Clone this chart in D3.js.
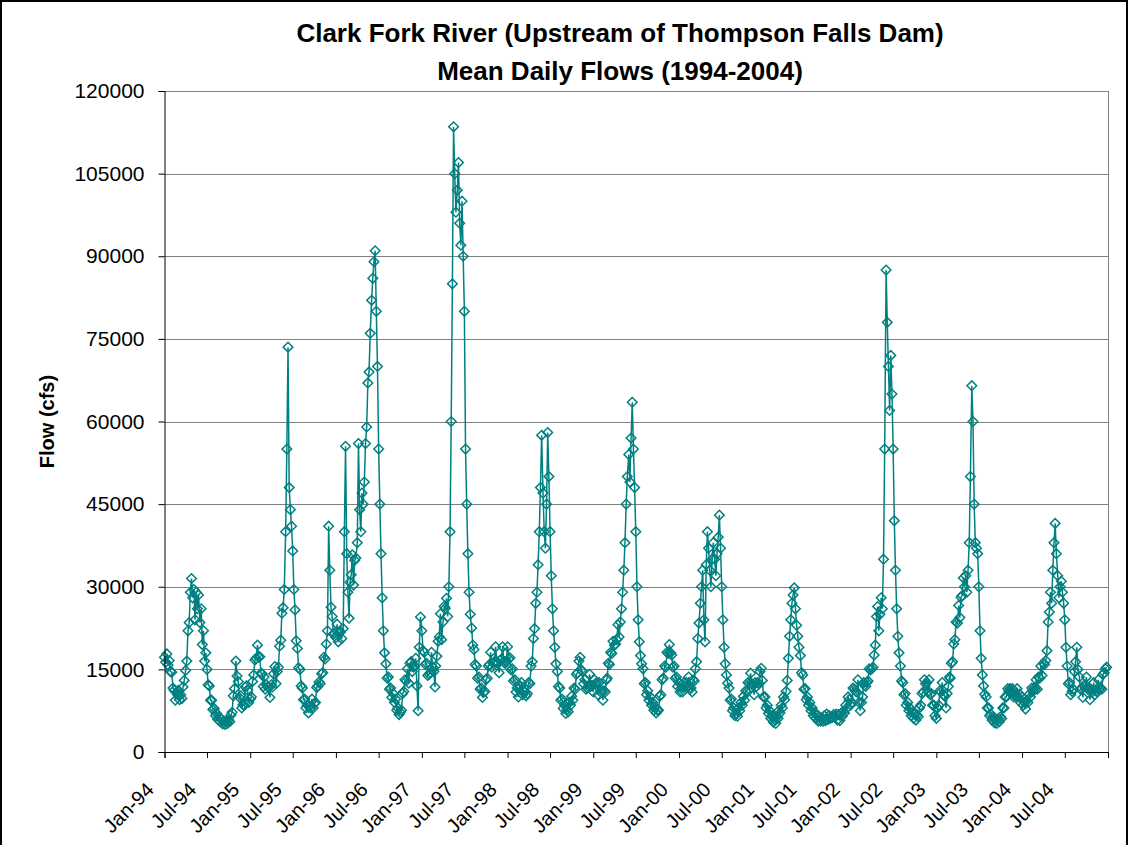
<!DOCTYPE html>
<html><head><meta charset="utf-8">
<script src="https://cdn.jsdelivr.net/npm/d3@7"></script>
<style>
body{margin:0;background:#fff;}
svg{display:block;font-family:"Liberation Sans",Arial,Helvetica,sans-serif;}
</style>
</head><body>
<svg id="chart" width="1130" height="845"></svg>
<script>
// ---- DATA (mean daily flow, cfs, sampled on days 1,6,11,16,21,26 of each month) ----
const years = [1994,1995,1996,1997,1998,1999,2000,2001,2002,2003,2004];
const sampleDays = [1,6,11,16,21,26];

const flows1994 = [
 17200,16300,17800,15800,16600,14600,
 14500,11600,11200, 9400,10800,10400,
 11200, 9500,10400, 9700,11800,13000,
 14800,16500,22000,23500,29000,31500,
 28000,29500,24000,29000,26000,28500,
 23500,26000,19500,22000,16500,18000,
 15000,12200,12000, 9400, 9400, 7700,
  7900, 6600, 7000, 5900, 6400, 5500,
  5900, 5100, 5600, 5000, 5600, 5200,
  5800, 5500, 6700, 7200,10200,11500,
 16500,13800,12800, 9900,10200, 8000,
  8600, 8500,11800,12000,11200, 9000];
const flows1995 = [
  9600,10000,12800,14000,16700,17000,
 19400,17200,17300,14300,14200,11900,
 13600,11400,12200,11800,11700, 9900,
 12200,11800,14200,15500,12400,14600,
 15400,19200,20300,25200,26200,29500,
 40000,55000,73500,48000,44000,41000,
 36500,29500,25800,20200,18800,15300,
 15000,12000,11600, 9500, 9600, 8000,
  8500, 7100, 8300, 8000, 9600, 8000,
  8800, 9000,11700,12000,12700,12400,
 14200,14400,17200,16900,19600,22000,
 41000,33000,26300,24600,21400,21600];
const flows1996 = [
 20800,23200,20000,21700,21800,20600,
 22400,40000,55500,36000,29000,24300,
 30800,32200,35800,30300,34800,35200,
 38000,56000,44000,40000,47000,45000,
 49000,56000,59000,67000,69000,76000,
 82000,86000,89000,91000,80000,70000,
 55000,45000,36000,28000,22000,18000,
 16000,13400,13600,11400,11600, 9900,
 10600, 9000, 9600, 7600, 8000, 6800,
  7200, 7600,10600,11000,13100,12900,
 15100,12500,16100,16400,14600,15400,
 15600,17000,12000, 7500,19000,24500];
const flows1997 = [
 22000,18400,18100,15900,16100,13900,
 14100,14400,18100,15400,14600,11800,
 15600,17400,20100,20900,25100,20400,
 23600,26400,26100,27900,24600,30000,
 40000,60000,85000,113500,105000,98000,
 102000,107000,96000,92000,100000,90000,
 80000,55000,45000,36000,29000,25000,
 22500,19400,18600,15900,15600,13400,
 13600,11400,11600, 9900,10800,11000,
 13100,13400,15600,15900,18100,15400,
 16100,16400,19100,16400,16100,14400,
 16600,16900,19100,16400,16100,16400];
const flows1998 = [
 19100,16900,17100,14900,15100,12900,
 13100,10900,11600,10000,12100,11900,
 12600,10400,11100,10900,10200,10600,
 12600,12400,15600,16400,20600,22400,
 27000,29000,34000,40000,48000,57500,
 47000,40000,37000,45000,58000,50000,
 40000,32000,26000,22000,19000,16000,
 14600,11900,11600, 9400, 9600, 7900,
  8500, 7000, 7700, 7300, 9000, 8500,
 10100, 9400,11600,11400,14100,14400,
 16500,17200,14900,14600,12400,13100,
 11400,11600,11900,14100,11900,12100];
const flows1999 = [
 10900,13100,12400,12600,10400,12600,
 10900,11100, 9400,11100,10900,13100,
 13400,16100,15900,18100,17900,20100,
 19400,19600,20400,23100,20900,23600,
 26000,29000,33000,38000,45000,50000,
 54000,49000,57000,63500,55000,48000,
 40000,30000,24000,20000,17500,16000,
 15100,12400,12600,10400,11100, 9400,
 10000, 8500, 9000, 7600, 8200, 7100,
  7600, 7600,10100,10400,13100,13400,
 15600,15400,18100,17900,19500,18000,
 17600,15400,15600,13400,13600,11900];
const flows2000 = [
 12600,10900,11600,10900,12600,11900,
 12600,11900,13600,11400,11600,10900,
 13100,12900,15100,16400,20600,23400,
 27000,30000,33000,24000,20000,34000,
 40000,37000,33000,30000,35000,38000,
 35000,32000,36000,39000,43000,37000,
 30000,24000,19000,16000,14000,12500,
 11600, 9400, 9600, 7500, 8000, 6600,
  7000, 6500, 8000, 7500, 9000, 8500,
 10100, 9400,11100,10900,12600,12400,
 14300,12400,12100,10400,12600,11900,
 12600,12400,14600,15200,13000,10000];
const flows2001 = [
 10000, 8000, 8500, 7000, 7500, 6100,
  6600, 5400, 5900, 5200, 6400, 6100,
  7500, 7100, 8500, 8000,10000, 9500,
 11000,13000,17000,21000,24000,27000,
 28500,29800,26000,23000,21000,19000,
 17500,14400,14000,11400,11500, 9500,
 10000, 8500, 9000, 7500, 8000, 6600,
  7200, 6100, 6600, 5600, 6400, 5600,
  6200, 5600, 6600, 5700, 6900, 5900,
  6600, 6100, 6400, 6300, 6800, 6400,
  6900, 5800, 6800, 5700, 7000, 6500,
  7400, 7100, 8500, 8000,10000, 9500];
const flows2002 = [
  8500, 9000,11600,11400,11100,10900,
 13100, 9000, 7500, 9000,10000,12600,
 12100,11900,12600,12900,15100,14900,
 15100,15400,17600,19400,24600,26400,
 22000,25000,28000,26000,35000,55000,
 87500,78000,70000,62000,72000,65000,
 55000,42000,33000,26000,21000,18000,
 15600,12900,12600,10400,10600, 8500,
  9000, 7500, 8000, 6600, 7200, 6100,
  6800, 5800, 6700, 6400, 8000, 8500,
 10600,10900,13100,12400,12600,10900,
 13100,10400,10600, 8500, 8500, 6600];
const flows2003 = [
  6100, 8000, 8500,11100,10900,12600,
 10400,10100, 8000,10600,11900,13600,
 13400,16100,16400,19600,20400,23600,
 23400,26600,24400,28100,28400,31600,
 30000,32000,29000,33000,38000,50000,
 66500,60000,45000,38000,37000,36000,
 30000,22000,17000,14000,12000,10500,
 10000, 8000, 8000, 6600, 6900, 5800,
  6300, 5300, 5900, 5200, 6000, 5500,
  6400, 6100, 8000, 8000,10000,10000,
 11500,11000,11500,11000,11500,10000,
 10500,10000,11500,10000,10500, 9000];
const flows2004 = [
 10000, 8500, 9000, 7800, 9300, 9000,
 10500,10000,11600,11000,11600,11400,
 13100,11400,13600,13400,15600,13900,
 16100,15900,16600,18400,23600,25400,
 29000,27000,33000,38000,41500,36000,
 32000,28000,30000,31000,29000,27000,
 24000,19000,15600,12400,12600,10400,
 11000,11400,14600,16400,19000,15000,
 13600,11400,11600, 9900,12100,11900,
 13600,11400,11600, 9500,11100,10900,
 12600,10400,11100,10900,13100,11400,
 11600,11400,14100,14400,15100,15400];

const flowsByYear = [flows1994,flows1995,flows1996,flows1997,flows1998,flows1999,
                     flows2000,flows2001,flows2002,flows2003,flows2004];

const yTicks = [0,15000,30000,45000,60000,75000,90000,105000,120000];
const xTickLabels = ["Jan-94","Jul-94","Jan-95","Jul-95","Jan-96","Jul-96","Jan-97","Jul-97",
  "Jan-98","Jul-98","Jan-99","Jul-99","Jan-00","Jul-00","Jan-01","Jul-01","Jan-02","Jul-02",
  "Jan-03","Jul-03","Jan-04","Jul-04",""];
const titleLines = ["Clark Fork River (Upstream of Thompson Falls Dam)","Mean Daily Flows (1994-2004)"];
const yAxisTitle = "Flow (cfs)";

// ---- BUILD ----
const data = [];
years.forEach((yr, yi) => {
  flowsByYear[yi].forEach((v, k) => {
    data.push({date: new Date(yr, Math.floor(k / 6), sampleDays[k % 6]), value: v});
  });
});

const W = 1130, H = 845;
const plot = {left: 164.5, right: 1108, top: 91, bottom: 752};
const teal = "#008080";
const font = "'Liberation Sans', Arial, sans-serif";

const svg = d3.select("#chart");
svg.append("rect").attr("width", W).attr("height", H).attr("fill", "#fff");
// outer frame
svg.append("rect").attr("x", 1).attr("y", 1).attr("width", 1126).attr("height", 900)
  .attr("fill", "none").attr("stroke", "#000").attr("stroke-width", 2);

const x = d3.scaleTime()
  .domain([new Date(1994, 0, 1), new Date(2005, 0, 1)])
  .range([plot.left, plot.right]);
const y = d3.scaleLinear().domain([0, 120000]).range([plot.bottom, plot.top]);

const xTickDates = d3.range(23).map(i => new Date(1994 + Math.floor(i / 2), (i % 2) * 6, 1));

// gridlines
svg.append("g").selectAll("line").data(yTicks.filter(t => t > 0)).join("line")
  .attr("x1", plot.left).attr("x2", plot.right)
  .attr("y1", d => Math.round(y(d)) + 0.5).attr("y2", d => Math.round(y(d)) + 0.5)
  .attr("stroke", "#808080").attr("stroke-width", 1);
// plot area right border
svg.append("line").attr("x1", plot.right + 0.5).attr("x2", plot.right + 0.5)
  .attr("y1", plot.top).attr("y2", plot.bottom).attr("stroke", "#808080");

// series line
const line = d3.line().x(d => x(d.date)).y(d => y(d.value));
svg.append("path").datum(data).attr("d", line)
  .attr("fill", "none").attr("stroke", teal).attr("stroke-width", 1.5);

// diamond markers
const r = 4.8;
svg.append("g").selectAll("path").data(data).join("path")
  .attr("d", `M0,${-r}L${r},0L0,${r}L${-r},0Z`)
  .attr("transform", d => `translate(${x(d.date)},${y(d.value)})`)
  .attr("fill", "none").attr("stroke", teal).attr("stroke-width", 1.5);

// y axis
const yAxis = svg.append("g").attr("transform", `translate(${plot.left},0)`)
  .call(d3.axisLeft(y).tickValues(yTicks).tickSize(6).tickPadding(14).tickFormat(d3.format("d")));
yAxis.select(".domain").attr("stroke", "#000");
yAxis.selectAll(".tick line").attr("stroke", "#000");
yAxis.selectAll("text").attr("font-size", 21).attr("fill", "#000").attr("font-family", font);

// x axis
const xAxis = svg.append("g").attr("transform", `translate(0,${plot.bottom})`)
  .call(d3.axisBottom(x).tickValues(xTickDates).tickSize(6).tickFormat((d, i) => xTickLabels[i]));
xAxis.select(".domain").attr("stroke", "#000");
xAxis.selectAll(".tick line").attr("stroke", "#000");
xAxis.selectAll("text")
  .attr("font-size", 20).attr("fill", "#000").attr("font-family", font)
  .attr("text-anchor", "end")
  .attr("x", 0).attr("y", 0).attr("dy", 0)
  .attr("transform", "translate(-10,39) rotate(-45)");

// titles
svg.append("text").attr("x", 620).attr("y", 42).attr("text-anchor", "middle")
  .attr("font-size", 26).attr("font-weight", "bold").text(titleLines[0]);
svg.append("text").attr("x", 620).attr("y", 80).attr("text-anchor", "middle")
  .attr("font-size", 26).attr("font-weight", "bold").text(titleLines[1]);
svg.append("text").attr("transform", `translate(54,${(plot.top + plot.bottom) / 2}) rotate(-90)`)
  .attr("text-anchor", "middle").attr("font-size", 20).attr("font-weight", "bold").text(yAxisTitle);
</script>
</body></html>
